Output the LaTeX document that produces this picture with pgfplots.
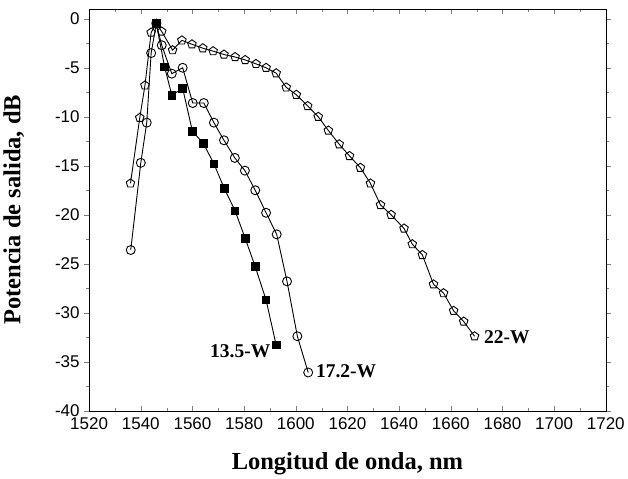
\documentclass[border=0pt]{standalone}
\usepackage{fontspec}
\setmainfont{Liberation Serif}
\setsansfont{Liberation Sans}
\usepackage{pgfplots}
\pgfplotsset{compat=1.18}

\begin{document}
\begin{tikzpicture}
\begin{axis}[
  scale only axis,
  width=517pt, height=402pt,
  xmin=1520, xmax=1720,
  ymin=-40, ymax=1,
  xtick={1520,1540,...,1720},
  ytick={-40,-35,...,0},
  minor x tick num=1,
  minor y tick num=1,
  xtick align=inside,
  ytick align=outside,
  major tick length=5pt,
  minor tick length=3pt,
  /pgf/number format/assume math mode=true,
  /pgf/number format/1000 sep={},
  tick label style={font=\sffamily\fontsize{17}{17}\selectfont},
  xticklabel style={yshift=-3pt},
  yticklabel style={xshift=-1pt},
  xlabel={\textbf{Longitud de onda, nm}},
  ylabel={\textbf{Potencia de salida, dB}},
  label style={font=\fontsize{24.5}{24.5}\selectfont},
  xlabel style={at={(axis description cs:0.5,-0.132)}, anchor=center},
  ylabel style={at={(axis description cs:-0.146,0.5)}, anchor=center},
  every axis plot/.append style={line width=0.9pt, color=black},
  mark size=4.5pt,
]

% 13.5-W
\addplot[mark=square*, mark options={fill=black, scale=0.85}] coordinates {
(1546,-0.5) (1549.2,-4.9) (1552,-7.8) (1556.2,-7.1) (1560,-11.5) (1564.2,-12.7)
(1568.3,-14.8) (1572.3,-17.3) (1576.5,-19.6) (1580.4,-22.4) (1584.3,-25.3)
(1588.5,-28.7) (1592.4,-33.3)
};
% 17.2-W
\addplot[mark=o, mark options={fill=white}] coordinates {
(1536.1,-23.6) (1540,-14.7) (1542.3,-10.6) (1544,-3.5) (1546,-0.5) (1548.1,-2.7)
(1552,-5.6) (1556.2,-5.0) (1560.1,-8.6) (1564.4,-8.6) (1568.3,-10.6) (1572.2,-12.4)
(1576.4,-14.2) (1580.3,-15.5) (1584.3,-17.5) (1588.5,-19.8) (1592.6,-22.0)
(1596.6,-26.8) (1600.6,-32.4) (1604.8,-36.1)
};
% 22-W
\addplot[mark=pentagon, mark options={fill=white}] coordinates {
(1536,-16.8) (1539.6,-10.1) (1541.6,-6.8) (1544,-1.4) (1546,-0.5) (1548.1,-1.3)
(1552.3,-3.2) (1555.9,-2.2) (1559.8,-2.6) (1564,-3.0) (1568,-3.3) (1572.2,-3.65)
(1576.5,-3.9) (1580.4,-4.2) (1584.6,-4.6) (1588.5,-5.0) (1592.4,-5.55) (1596.3,-7.0)
(1600.2,-7.75) (1604.6,-8.9) (1608.7,-10.0) (1612.6,-11.4) (1616.8,-12.8)
(1620.8,-14.0) (1625,-15.2) (1628.9,-16.8) (1632.8,-19.0) (1636.9,-20.0)
(1641.9,-21.4) (1645.1,-23.0) (1649,-24.1) (1653.3,-27.1) (1657.2,-28.0)
(1661.1,-29.8) (1665,-30.9) (1669.2,-32.4)
};

\node[anchor=east, font=\bfseries\fontsize{19.5}{19.5}\selectfont] at (axis cs:1591.5,-33.9) {13.5-W};
\node[anchor=west, font=\bfseries\fontsize{19.5}{19.5}\selectfont] at (axis cs:1606.5,-36.0) {17.2-W};
\node[anchor=west, font=\bfseries\fontsize{19.5}{19.5}\selectfont] at (axis cs:1671.5,-32.5) {22-W};
\coordinate (topleft) at (rel axis cs:0,1);
\end{axis}
\path (topleft) ++(0,9pt);
\end{tikzpicture}
\end{document}
